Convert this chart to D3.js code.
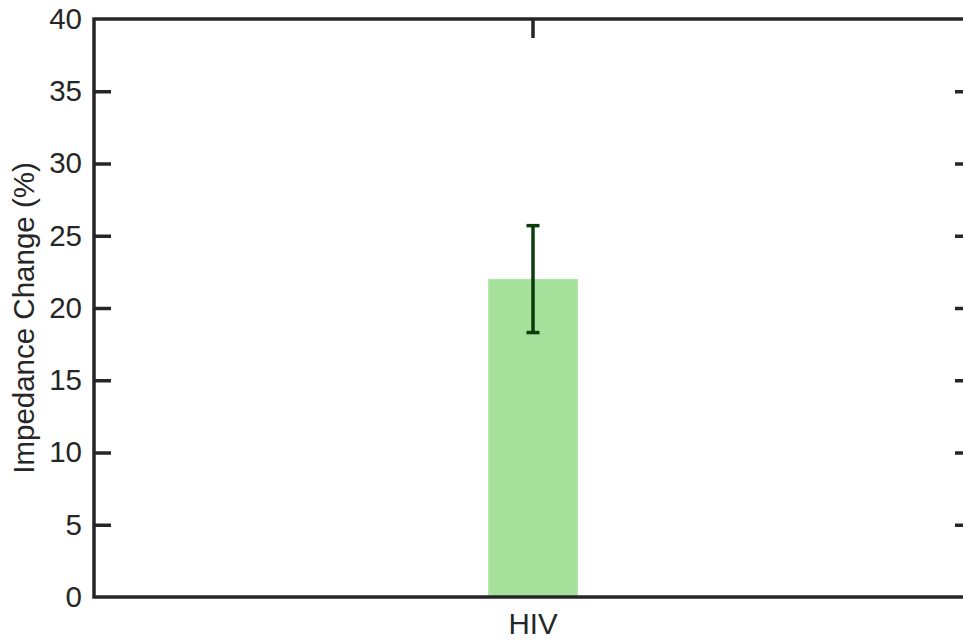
<!DOCTYPE html>
<html>
<head>
<meta charset="utf-8">
<script src="https://cdn.jsdelivr.net/npm/d3@7"></script>
<style>
  body { margin: 0; background: #fff; }
  svg { display: block; font-family: "Liberation Sans", Arial, Helvetica, sans-serif; }
</style>
</head>
<body>
<div id="chart-area"></div>
<script>
// DATA
var categories = ["HIV"];
var means = [22.0];
var errLow = [18.3];
var errHigh = [25.7];
var yTicks = [0, 5, 10, 15, 20, 25, 30, 35, 40];

var margin = { left: 94, right: -9, top: 19, bottom: 43 };
var W = 963, H = 640;
var width = W - margin.left - margin.right,
    height = H - margin.top - margin.bottom;

var svg = d3.select("#chart-area")
    .append("svg")
        .attr("width", W)
        .attr("height", H);

var g = svg.append("g")
    .attr("transform", "translate(" + margin.left + "," + margin.top + ")");

// SCALES
var x = d3.scaleBand()
    .domain(categories)
    .range([0, width])
    .paddingInner(0)
    .paddingOuter(4.4);

var y = d3.scaleLinear()
    .domain([0, 40])
    .range([height, 0]);

var axisColor = "#262626";
var fontSize = "29.5px";

// BARS
g.selectAll("rect.bar")
    .data(categories)
    .enter().append("rect")
        .attr("class", "bar")
        .attr("x", function(d) { return x(d); })
        .attr("width", x.bandwidth())
        .attr("y", function(d, i) { return y(means[i]); })
        .attr("height", function(d, i) { return height - y(means[i]); })
        .attr("fill", "#a6e19b");

// ERROR BARS
var errColor = "#0b3d0b";
categories.forEach(function(c, i) {
    var cx = x(c) + x.bandwidth() / 2;
    var eb = g.append("g").attr("stroke", errColor).attr("stroke-width", 3.5);
    eb.append("line")
        .attr("x1", cx).attr("x2", cx)
        .attr("y1", y(errLow[i])).attr("y2", y(errHigh[i]));
    [errLow[i], errHigh[i]].forEach(function(v) {
        eb.append("line")
            .attr("x1", cx - 6.5).attr("x2", cx + 6.5)
            .attr("y1", y(v)).attr("y2", y(v));
    });
});

// AXES
var yAxisLeft = d3.axisLeft(y).tickValues(yTicks).tickSize(-17).tickPadding(12);
var yAxisRight = d3.axisRight(y).tickValues(yTicks).tickSize(-17).tickFormat("");
var xAxisBottom = d3.axisBottom(x).tickSize(0).tickPadding(16);
var xAxisTop = d3.axisTop(x).tickSize(-19).tickFormat("");

function styleAxis(sel) {
    sel.select(".domain").remove();
    sel.selectAll(".tick line").attr("stroke", axisColor).attr("stroke-width", 3.5);
    sel.selectAll(".tick text")
        .attr("fill", axisColor)
        .attr("font-size", fontSize);
}

g.append("g").attr("class", "y axis").call(yAxisLeft).call(styleAxis);
g.append("g").attr("class", "y axis right")
    .attr("transform", "translate(" + width + ",0)")
    .call(yAxisRight).call(styleAxis);
g.append("g").attr("class", "x axis")
    .attr("transform", "translate(0," + height + ")")
    .call(xAxisBottom).call(styleAxis);
g.append("g").attr("class", "x axis top")
    .call(xAxisTop).call(styleAxis);

// no tick marks at 0 and 40 (they sit on the frame)
g.selectAll(".y.axis .tick line").filter(function(d) { return d === 0 || d === 40; }).remove();

// FRAME
g.append("rect")
    .attr("x", 0).attr("y", 0)
    .attr("width", width).attr("height", height)
    .attr("fill", "none")
    .attr("stroke", axisColor)
    .attr("stroke-width", 3.5);

// Y LABEL
svg.append("text")
    .attr("transform", "translate(34," + (margin.top + height / 2 + 10) + ") rotate(-90)")
    .attr("text-anchor", "middle")
    .attr("fill", axisColor)
    .attr("font-size", fontSize)
    .text("Impedance Change (%)");
</script>
</body>
</html>
